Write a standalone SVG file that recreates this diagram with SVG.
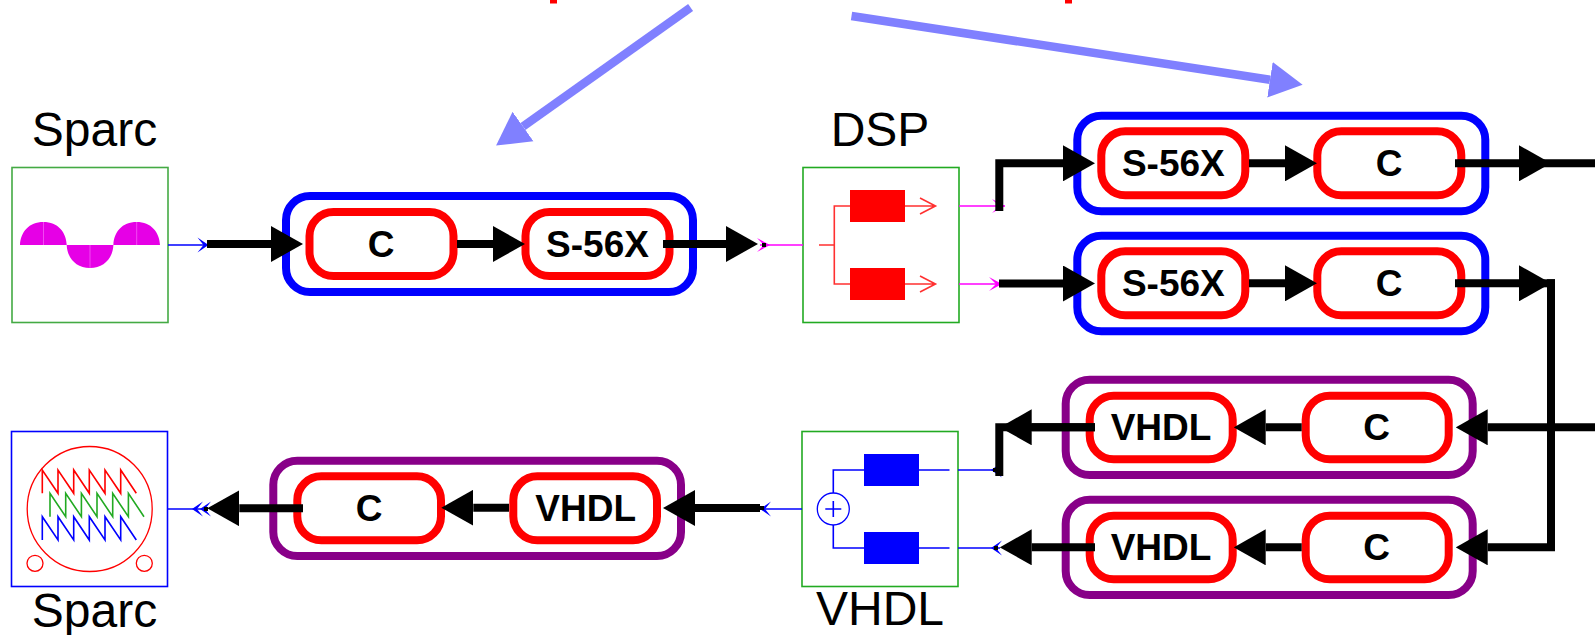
<svg xmlns="http://www.w3.org/2000/svg" width="1595" height="635" viewBox="0 0 1595 635">
<style>
text{font-family:"Liberation Sans",Arial,sans-serif;fill:#000}
.lbl{font-size:48px;text-anchor:middle}
.nm{font-size:37px;font-weight:700;text-anchor:middle}
.bg{fill:none;stroke-width:8}
.blue{stroke:#0000ff}
.pur{stroke:#880088}
.in{fill:#fff;stroke:#ff0000;stroke-width:8}
.box{fill:#fff;stroke:#22aa22;stroke-width:1.6}
.wire{fill:none;stroke:#000;stroke-width:8;stroke-linejoin:miter;marker-end:url(#hd)}
.bare{fill:none;stroke:#000;stroke-width:8;stroke-linejoin:miter}
.t{fill:none;stroke-width:1.6}
.pa{fill:none;stroke:#8080ff;stroke-width:8.500;marker-end:url(#pa)}
</style>
<defs>
<marker id="hd" markerUnits="userSpaceOnUse" viewBox="0 -18 32 36" markerWidth="32" markerHeight="36" refX="0" refY="0" orient="auto"><path d="M0-18L32 0L0 18z" fill="#000"/></marker>
<marker id="pa" markerUnits="userSpaceOnUse" viewBox="0 -19 36 38" markerWidth="36" markerHeight="38" refX="0" refY="0" orient="auto"><path d="M0-18L33 0L0 18z" fill="#8080ff"/></marker>
<marker id="cb" markerUnits="userSpaceOnUse" viewBox="-13 -8 14 16" markerWidth="14" markerHeight="16" refX="0" refY="0" orient="auto"><path d="M0 0L-11-7.500L-5 0L-11 7.500z" fill="#0000ff"/></marker>
<marker id="cm" markerUnits="userSpaceOnUse" viewBox="-14 -8 15 16" markerWidth="15" markerHeight="16" refX="0" refY="0" orient="auto"><path d="M0 0L-13-7L-6 0L-13 7z" fill="#ff00ff"/></marker>
</defs>
<rect width="1595" height="635" fill="#fff"/>

<g id="fragments">
<rect x="550" y="0" width="7" height="3.5" fill="#ff0000"/>
<rect x="1065" y="0" width="7" height="3.5" fill="#ff0000"/>
</g>

<g id="sparc-source">
<text class="lbl" x="94.5" y="146">Sparc</text>
<rect class="box" x="12" y="167.5" width="156" height="155" style="stroke:#44aa44"/>
<path d="M20 245C20.500 232 29 222 43.300 222C58 222 66.200 232 66.700 245C67.200 258 76 268 90 268C104 268 112.900 258 113.400 245C113.900 232 122 222 136.700 222C151 222 159.500 232 160 245z" fill="#e600e6"/>
<path d="M43.500 222V245M90 245V268M136.700 222V245" stroke="#ff90ff" stroke-width="0.500" fill="none"/>
</g>

<g id="sparc-sink">
<text class="lbl" x="94.5" y="626.500">Sparc</text>
<rect class="box" x="11.500" y="431.500" width="156" height="155" style="stroke:#0000ff"/>
<circle cx="89.700" cy="509" r="62.500" fill="none" stroke="#ff0000" stroke-width="1.300"/>
<circle cx="35" cy="563.300" r="8" fill="none" stroke="#ff0000" stroke-width="1.300"/>
<circle cx="144.300" cy="563.300" r="8" fill="none" stroke="#ff0000" stroke-width="1.300"/>
<path class="t" stroke="#ff0000" d="M42.300 493.300V470L58 493.300V470L73.700 493.300V470L89.300 493.300V470L105 493.300V470L120.700 493.300V470L136.300 493.300"/>
<path class="t" stroke="#22aa22" d="M50 516.700V493.300L65.700 516.700V493.300L81.400 516.700V493.300L97 516.700V493.300L112.700 516.700V493.300L128.400 516.700V493.300L144 516.700"/>
<path class="t" stroke="#0000ff" d="M42.300 540V516.700L58 540V516.700L73.700 540V516.700L89.300 540V516.700L105 540V516.700L120.700 540V516.700L136.300 540"/>
</g>

<g id="dsp">
<text class="lbl" x="880" y="146">DSP</text>
<rect class="box" x="803" y="167.500" width="156" height="155"/>
<path class="t" stroke="#ff3030" d="M819 245H834.300M850 206H834.300V284H850M905 206H935M920 198L935.500 206L920 214M905 284H935M920 276L935.500 284L920 292"/>
<rect x="850" y="190" width="55" height="32" fill="#ff0000"/>
<rect x="850" y="268" width="55" height="32" fill="#ff0000"/>
</g>

<g id="vhdl">
<text class="lbl" x="880" y="625">VHDL</text>
<rect class="box" x="802" y="431.500" width="156" height="155"/>
<circle cx="833.300" cy="509" r="16" fill="none" stroke="#0000ff" stroke-width="1.300"/>
<path class="t" stroke="#0000ff" d="M825.300 509H841.300M833.300 501V517M833.300 493V470H864M833.300 525V548H864M919 470H949.500M919 548H949.500"/>
<rect x="864" y="454" width="55" height="32" fill="#0000ff"/>
<rect x="864" y="532" width="55" height="32" fill="#0000ff"/>
</g>

<g id="block-a">
<rect class="bg blue" x="286" y="196" width="407" height="96" rx="24"/>
<g id="a-c"><rect class="in" x="309.500" y="212" width="144" height="64" rx="24"/><text class="nm" x="381" y="257">C</text></g>
<g id="a-s56x"><rect class="in" x="525.500" y="212" width="144" height="64" rx="24"/><text class="nm" x="597.500" y="257">S-56X</text></g>
</g>
<g id="block-b">
<rect class="bg blue" x="1077.300" y="115.700" width="408" height="95.600" rx="24"/>
<g id="b-s56x"><rect class="in" x="1101.300" y="131.300" width="144" height="64" rx="24"/><text class="nm" x="1173.300" y="176">S-56X</text></g>
<g id="b-c"><rect class="in" x="1317.300" y="131.300" width="144" height="64" rx="24"/><text class="nm" x="1389" y="176">C</text></g>
</g>
<g id="block-c">
<rect class="bg blue" x="1077.300" y="235.700" width="408" height="95.600" rx="24"/>
<g id="c-s56x"><rect class="in" x="1101.300" y="251.300" width="144" height="64" rx="24"/><text class="nm" x="1173.300" y="296">S-56X</text></g>
<g id="c-c"><rect class="in" x="1317.300" y="251.300" width="144" height="64" rx="24"/><text class="nm" x="1389" y="296">C</text></g>
</g>
<g id="block-d">
<rect class="bg pur" x="1065.700" y="379.700" width="407" height="95.300" rx="24"/>
<g id="d-vhdl"><rect class="in" x="1089.700" y="395.700" width="143" height="63.600" rx="24"/><text class="nm" x="1161" y="440">VHDL</text></g>
<g id="d-c"><rect class="in" x="1305.700" y="395.700" width="143" height="63.600" rx="24"/><text class="nm" x="1376.700" y="440">C</text></g>
</g>
<g id="block-e">
<rect class="bg pur" x="1065.700" y="499.700" width="407" height="95.300" rx="24"/>
<g id="e-vhdl"><rect class="in" x="1089.700" y="515.700" width="143" height="63.600" rx="24"/><text class="nm" x="1161" y="560">VHDL</text></g>
<g id="e-c"><rect class="in" x="1305.700" y="515.700" width="143" height="63.600" rx="24"/><text class="nm" x="1376.700" y="560">C</text></g>
</g>
<g id="block-f">
<rect class="bg pur" x="273.300" y="460.700" width="407.700" height="95.300" rx="24"/>
<g id="f-c"><rect class="in" x="297.300" y="476.300" width="143.700" height="64" rx="24"/><text class="nm" x="369" y="520.500">C</text></g>
<g id="f-vhdl"><rect class="in" x="513.300" y="476.300" width="143.700" height="64" rx="24"/><text class="nm" x="585.700" y="520.500">VHDL</text></g>
</g>

<g id="connectors">
<path class="t" stroke="#0000ff" d="M168 245H208.500" marker-end="url(#cb)"/>
<path class="t" stroke="#ff00ff" d="M760 245H770H803" marker-mid="url(#cm)"/>
<path class="t" stroke="#ff00ff" d="M959 206H1005" marker-end="url(#cm)"/>
<path class="t" stroke="#ff00ff" d="M959 284H1002" marker-end="url(#cm)"/>
<path class="t" stroke="#0000ff" d="M1000 470H991H958" marker-mid="url(#cb)"/>
<path class="t" stroke="#0000ff" d="M1000 548H991H958" marker-mid="url(#cb)"/>
<path class="t" stroke="#0000ff" d="M802 509H760" marker-end="url(#cb)"/>
<path class="t" stroke="#0000ff" d="M205 509H200H192H168" marker-mid="url(#cb)"/>

<path class="wire" d="M207 244H271"/>
<path class="wire" d="M457 244H493"/>
<path class="wire" d="M663 244H726"/>
<rect x="762" y="243" width="4" height="4" fill="#000"/>
<path class="wire" d="M999.300 211V163.300H1063"/>
<path class="wire" d="M999 283.500H1063"/>
<path class="wire" d="M1249 163.300H1285"/>
<path class="wire" d="M1249 283.300H1285"/>
<path class="wire" d="M1455 163.300H1519"/>
<path class="bare" d="M1540 163.300H1595"/>
<path class="wire" d="M1455 283.300H1519"/>
<path class="wire" d="M1551 279.300V547.300H1487.700"/>
<path class="bare" d="M1540 283.300H1555"/>
<path class="wire" d="M1595 427.300H1487.700"/>
<path class="wire" d="M1301.700 427.300H1265.700"/>
<path class="wire" d="M1301.700 547.300H1265.700"/>
<path class="bare" d="M1095 427.300H999.300V476"/>
<path class="wire" d="M1095 427.300H1031.700"/>
<path class="wire" d="M1095 547.300H1031.700"/>
<rect x="993" y="468" width="4" height="4" fill="#000"/>
<rect x="994" y="546" width="4" height="4" fill="#000"/>
<path class="wire" d="M760 508H695"/>
<path class="wire" d="M509 507.700H473.300"/>
<path class="wire" d="M303 508.300H239.300"/>
<rect x="204" y="507" width="4" height="4" fill="#000"/>
<rect x="760" y="506" width="4" height="4" fill="#000"/>

<path class="pa" d="M690.600 7.500L523 126.500"/>
<path class="pa" d="M851.500 16L1270 79.700"/>
</g>
</svg>
